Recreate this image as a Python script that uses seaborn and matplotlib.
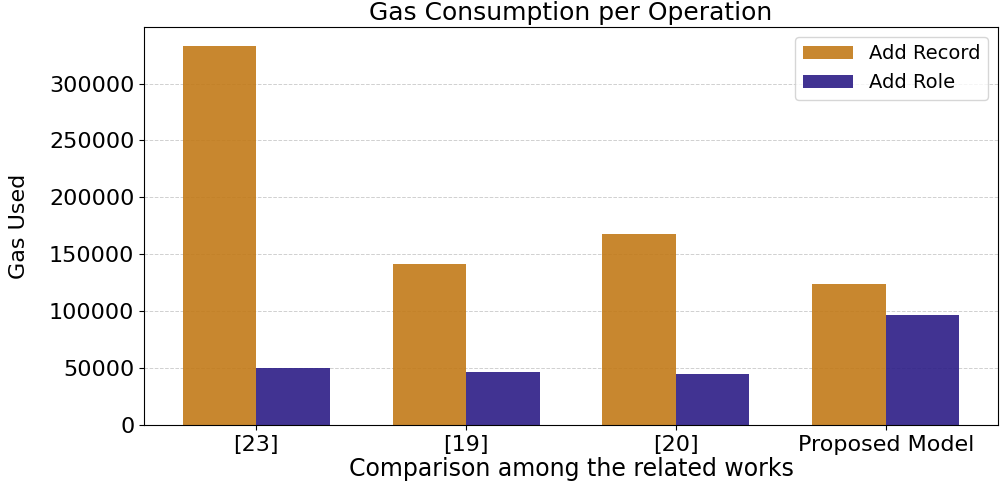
import pandas as pd
import matplotlib.pyplot as plt
import seaborn as sns

# values
works = ['[23]', '[19]', '[20]', 'Proposed Model']
add_record = [333000, 141000, 168000, 124000]
add_role = [50000, 46600, 44800, 97000]

df = pd.DataFrame({
    'Work': works * 2,
    'Operation': ['Add Record'] * len(works) + ['Add Role'] * len(works),
    'Gas': add_record + add_role,
})

colors = {'Add Record': '#C27A18', 'Add Role': '#2C1D86'}

fig, ax = plt.subplots(figsize=(10.04, 4.82), dpi=100)
fig.subplots_adjust(left=0.1434, right=0.994, bottom=0.1183, top=0.944)

ax.set_axisbelow(True)
ax.grid(axis='y', linestyle='--', color='#c4c4c4', linewidth=0.7, alpha=0.8)

sns.barplot(data=df, x='Work', y='Gas', hue='Operation', palette=colors,
            width=0.7, saturation=1, alpha=0.9, ax=ax)

ax.set_xlim(-0.535, 3.535)
ax.set_title('Gas Consumption per Operation', fontsize=18, pad=5)
ax.set_xlabel('Comparison among the related works', fontsize=17, labelpad=2)
ax.set_ylabel('Gas Used', fontsize=16, labelpad=14)
ax.tick_params(axis='both', labelsize=16)

handles, labels = ax.get_legend_handles_labels()
ax.legend(handles, labels, loc='upper right', fontsize=14, handlelength=2.6)

plt.savefig('out.png', dpi=100)
